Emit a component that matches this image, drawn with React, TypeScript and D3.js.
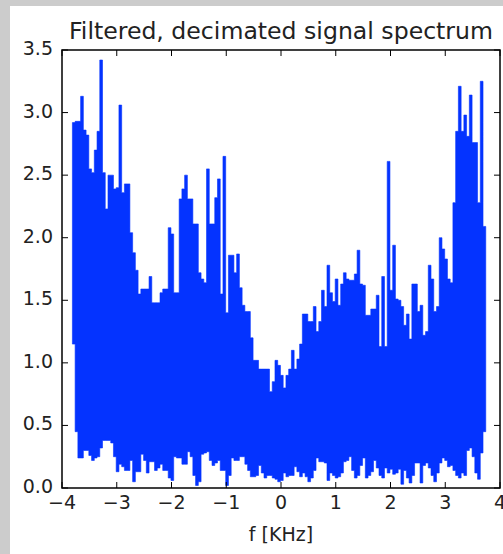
import React from 'react';
import * as d3 from 'd3';

// Frequency grid of the spectrum bins (kHz)
const F_START = -3.81;
const F_STEP = 0.05;

// Peak (upper) value of the spectrum magnitude in each bin
const peakValues = [
  2.92, 2.93, 2.93, 3.13, 2.86, 2.82, 2.55, 2.52, 2.70, 2.85,
  3.42, 2.52, 2.23, 2.50, 2.50, 2.39, 2.40, 3.06, 2.36, 2.43,
  2.43, 2.04, 1.88, 1.74, 1.55, 1.59, 1.59, 1.59, 1.69, 1.48,
  1.48, 1.48, 1.56, 1.59, 1.59, 2.08, 2.03, 1.56, 1.56, 2.31,
  2.39, 2.50, 2.31, 2.31, 2.11, 2.11, 1.72, 1.67, 1.64, 2.55,
  2.11, 2.11, 2.32, 2.47, 1.55, 2.65, 1.40, 1.86, 1.86, 1.72,
  1.87, 1.60, 1.46, 1.41, 1.41, 1.20, 1.02, 1.02, 0.95, 0.95,
  0.95, 0.95, 0.77, 0.85, 1.02, 0.98, 0.90, 0.80, 0.90, 0.95,
  1.10, 0.95, 1.03, 1.15, 1.39, 1.39, 1.33, 1.33, 1.45, 1.25,
  1.33, 1.58, 1.45, 1.78, 1.56, 1.49, 1.67, 1.46, 1.63, 1.72,
  1.67, 1.66, 1.66, 1.71, 1.90, 1.63, 1.62, 1.38, 1.38, 1.43,
  1.43, 1.54, 1.13, 1.69, 1.13, 2.61, 1.58, 1.94, 1.51, 1.50,
  1.45, 1.30, 1.39, 1.19, 1.63, 1.63, 1.41, 1.46, 1.22, 1.25,
  1.78, 1.67, 1.41, 1.45, 2.00, 1.91, 1.83, 1.67, 1.64, 2.28,
  2.85, 3.21, 2.85, 2.98, 2.81, 3.14, 2.76, 2.76, 2.28, 3.25,
  2.09,
];

// Trough (lower) value of the spectrum magnitude in each bin
const troughValues = [
  1.15, 0.45, 0.24, 0.24, 0.30, 0.30, 0.26, 0.22, 0.24, 0.25,
  0.32, 0.38, 0.38, 0.38, 0.36, 0.25, 0.13, 0.19, 0.17, 0.14,
  0.14, 0.22, 0.05, 0.13, 0.13, 0.27, 0.22, 0.12, 0.21, 0.21,
  0.14, 0.16, 0.19, 0.14, 0.14, 0.08, 0.06, 0.25, 0.24, 0.24,
  0.19, 0.19, 0.29, 0.25, 0.10, 0.02, 0.05, 0.27, 0.28, 0.29,
  0.22, 0.18, 0.20, 0.22, 0.14, 0.14, 0.02, 0.10, 0.24, 0.22,
  0.22, 0.25, 0.25, 0.19, 0.14, 0.09, 0.09, 0.10, 0.18, 0.12,
  0.08, 0.10, 0.10, 0.08, 0.07, 0.05, 0.06, 0.12, 0.09, 0.10,
  0.10, 0.17, 0.13, 0.09, 0.12, 0.09, 0.05, 0.08, 0.14, 0.24,
  0.21, 0.21, 0.20, 0.06, 0.12, 0.10, 0.08, 0.09, 0.12, 0.21,
  0.22, 0.25, 0.14, 0.08, 0.10, 0.18, 0.24, 0.08, 0.10, 0.13,
  0.22, 0.16, 0.10, 0.08, 0.16, 0.12, 0.15, 0.11, 0.12, 0.15,
  0.03, 0.14, 0.08, 0.04, 0.10, 0.20, 0.20, 0.04, 0.18, 0.20,
  0.16, 0.10, 0.05, 0.12, 0.20, 0.24, 0.22, 0.17, 0.18, 0.14,
  0.10, 0.08, 0.12, 0.10, 0.30, 0.32, 0.25, 0.12, 0.07, 0.28,
  0.45,
];

const xTicks = [-4, -3, -2, -1, 0, 1, 2, 3, 4];
const xTickLabels = ['\u22124', '\u22123', '\u22122', '\u22121', '0', '1', '2', '3', '4'];
const yTicks = [0, 0.5, 1, 1.5, 2, 2.5, 3, 3.5];
const yTickLabels = ['0.0', '0.5', '1.0', '1.5', '2.0', '2.5', '3.0', '3.5'];
const TITLE = 'Filtered, decimated signal spectrum';
const X_LABEL = 'f [KHz]';

const W = 503;
const H = 554;
const M = { left: 62, right: 500, top: 50, bottom: 488 };
const FONT = 'DejaVu Sans, sans-serif';
const BLUE = '#0433ff';

type Bin = { f: number; lo: number; hi: number };

export default function App() {
  const x = d3.scaleLinear().domain([-4, 4]).range([M.left, M.right]);
  const y = d3.scaleLinear().domain([0, 3.5]).range([M.bottom, M.top]);

  const bins: Bin[] = peakValues.map((hi, i) => ({
    f: F_START + i * F_STEP,
    lo: troughValues[i],
    hi,
  }));
  const last = bins[bins.length - 1];
  bins.push({ f: last.f + F_STEP, lo: last.lo, hi: last.hi });

  const area = d3
    .area<Bin>()
    .x((d) => x(d.f))
    .y0((d) => y(d.lo))
    .y1((d) => y(d.hi))
    .curve(d3.curveStepAfter);

  const tickLen = 6;

  return (
    <svg
      width={W}
      height={H}
      style={{ position: 'absolute', left: 0, top: 0, display: 'block' }}
    >
      <rect x={0} y={0} width={W} height={H} fill="#cccccc" />
      <rect x={10} y={6} width={W - 10} height={H - 6} fill="#ffffff" />

      <path d={area(bins) || ''} fill={BLUE} stroke={BLUE} strokeWidth={0.6} />

      {/* ticks */}
      {xTicks.map((t) => (
        <g key={'xt' + t} stroke="#000" strokeWidth={1}>
          <line x1={x(t)} x2={x(t)} y1={M.bottom} y2={M.bottom - tickLen} />
          <line x1={x(t)} x2={x(t)} y1={M.top} y2={M.top + tickLen} />
        </g>
      ))}
      {yTicks.map((t) => (
        <g key={'yt' + t} stroke="#000" strokeWidth={1}>
          <line x1={M.left} x2={M.left + tickLen} y1={y(t)} y2={y(t)} />
          <line x1={M.right} x2={M.right - tickLen} y1={y(t)} y2={y(t)} />
        </g>
      ))}

      <rect
        x={M.left}
        y={M.top}
        width={M.right - M.left}
        height={M.bottom - M.top}
        fill="none"
        stroke="#000"
        strokeWidth={1.5}
      />

      {xTicks.map((t, i) => (
        <text
          key={'xl' + t}
          x={x(t)}
          y={M.bottom + 21}
          textAnchor="middle"
          fontFamily={FONT}
          fontSize={19}
          fill="#222"
        >
          {xTickLabels[i]}
        </text>
      ))}
      {yTicks.map((t, i) => (
        <text
          key={'yl' + t}
          x={M.left - 9}
          y={y(t) + 5}
          textAnchor="end"
          fontFamily={FONT}
          fontSize={19}
          fill="#222"
        >
          {yTickLabels[i]}
        </text>
      ))}

      <text
        x={(M.left + M.right) / 2}
        y={38.5}
        textAnchor="middle"
        fontFamily={FONT}
        fontSize={23.6}
        fill="#222"
      >
        {TITLE}
      </text>
      <text
        x={(M.left + M.right) / 2}
        y={541}
        textAnchor="middle"
        fontFamily={FONT}
        fontSize={19}
        fill="#222"
      >
        {X_LABEL}
      </text>
    </svg>
  );
}
